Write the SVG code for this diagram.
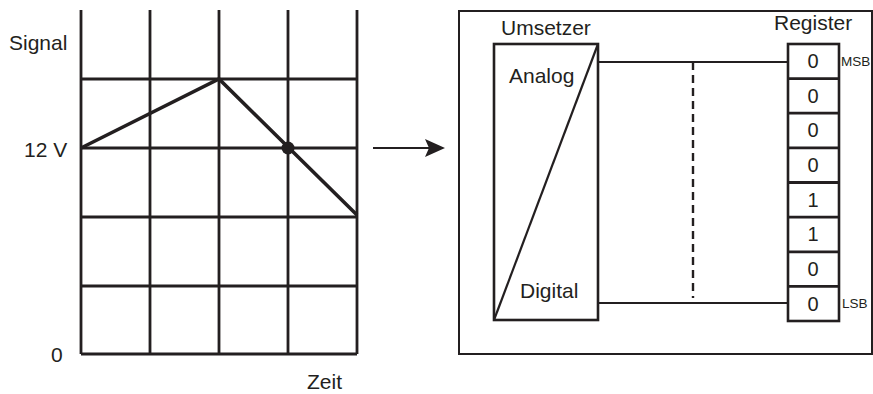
<svg xmlns="http://www.w3.org/2000/svg" width="873" height="394" viewBox="0 0 873 394">
<defs>
<style>
text{font-family:"Liberation Sans",Arial,sans-serif;fill:#231f20}
.lbl{font-size:21px}
.dig{font-size:20px;text-anchor:middle}
.sm{font-size:13.5px}
.grid{stroke:#231f20;stroke-width:2.8;fill:none}
.box{stroke:#231f20;stroke-width:2.6;fill:#fff}
.ln{stroke:#231f20;stroke-width:2.2;fill:none}
</style>
<marker id="ah" viewBox="0 0 20 20" refX="18" refY="10" markerWidth="20" markerHeight="20" markerUnits="userSpaceOnUse" orient="auto">
<path d="M0,1 L20,10 L0,19 L4,10 Z" fill="#231f20"/>
</marker>
</defs>
<rect width="873" height="394" fill="#fff"/>
<g id="chart">
<path class="grid" d="M81,10 V354 M150,10 V354 M219,10 V354 M288,10 V354 M357,10 V354 M81,354 H357 M81,79 H357 M81,148 H357 M81,217 H357 M81,286 H357"/>
<polyline points="81,148 219,79 357,215" fill="none" stroke="#231f20" stroke-width="3.6" stroke-linejoin="miter"/>
<circle cx="288" cy="148" r="6.5" fill="#231f20"/>
<text class="lbl" x="9" y="50">Signal</text>
<text class="lbl" x="24" y="157">12 V</text>
<text class="lbl" x="51" y="362">0</text>
<text class="lbl" x="307" y="389">Zeit</text>
</g>
<g id="frame">
<rect x="459" y="11" width="413" height="343" fill="none" stroke="#231f20" stroke-width="2"/>
</g>
<g id="connectors">
<line class="ln" x1="373" y1="148" x2="443" y2="148" marker-end="url(#ah)"/>
<line class="ln" x1="598" y1="62" x2="788" y2="62"/>
<line class="ln" x1="598" y1="303" x2="788" y2="303"/>
<line x1="693" y1="62" x2="693" y2="298" stroke="#231f20" stroke-width="2.4" stroke-dasharray="8,5"/>
</g>
<g id="umsetzer">
<rect class="box" x="494" y="44" width="104" height="276"/>
<line class="ln" x1="494" y1="320" x2="598" y2="44"/>
<text class="lbl" x="501" y="35">Umsetzer</text>
<text class="lbl" x="509" y="83">Analog</text>
<text class="lbl" x="520" y="298">Digital</text>
</g>
<g id="register">
<rect class="box" x="788" y="44" width="51" height="277"/>
<path class="grid" d="M788,78.6 H839 M788,113.2 H839 M788,147.9 H839 M788,182.5 H839 M788,217.1 H839 M788,251.8 H839 M788,286.4 H839"/>
<text class="lbl" x="774" y="30">Register</text>
<text class="dig" x="813" y="68">0</text>
<text class="dig" x="813" y="103">0</text>
<text class="dig" x="813" y="137">0</text>
<text class="dig" x="813" y="172">0</text>
<text class="dig" x="813" y="207">1</text>
<text class="dig" x="813" y="241">1</text>
<text class="dig" x="813" y="276">0</text>
<text class="dig" x="813" y="311">0</text>
<text class="sm" x="841" y="66">MSB</text>
<text class="sm" x="842" y="308">LSB</text>
</g>
</svg>
